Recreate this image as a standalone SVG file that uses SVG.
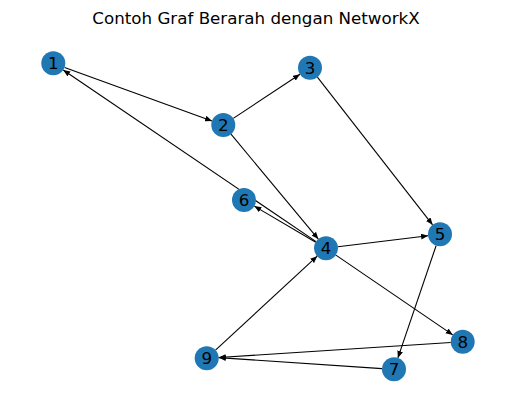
<svg xmlns="http://www.w3.org/2000/svg" width="515" height="411" viewBox="0 0 515 411">
<style>
.e{stroke:#000;stroke-width:1.1;fill:none;marker-end:url(#ah)}
.n circle{fill:#1f77b4}
.n text{font-family:"DejaVu Sans",sans-serif;font-size:16.7px;fill:#000;text-anchor:middle;dominant-baseline:central}
.t{font-family:"DejaVu Sans",sans-serif;font-size:16.7px;fill:#000;text-anchor:middle}
</style>
<defs>
<marker id="ah" markerUnits="userSpaceOnUse" markerWidth="8" markerHeight="6" refX="7" refY="2.9" orient="auto" viewBox="0 0 8 6">
<path d="M0,0 L7,2.9 L0,5.8 z" fill="#000"/>
</marker>
</defs>
<rect width="515" height="411" fill="#fff"/>
<text class="t" x="256" y="24">Contoh Graf Berarah dengan NetworkX</text>
<g id="edges">
<line class="e" x1="64.6" y1="67.4" x2="212.0" y2="120.9"/>
<line class="e" x1="233.3" y1="118.4" x2="300.0" y2="74.3"/>
<line class="e" x1="231.0" y1="134.2" x2="318.3" y2="239.1"/>
<line class="e" x1="317.4" y1="77.2" x2="432.6" y2="224.8"/>
<line class="e" x1="316.1" y1="241.6" x2="63.2" y2="70.0"/>
<line class="e" x1="315.7" y1="242.2" x2="254.3" y2="206.1"/>
<line class="e" x1="337.9" y1="246.8" x2="428.1" y2="235.8"/>
<line class="e" x1="335.9" y1="255.1" x2="452.8" y2="334.9"/>
<line class="e" x1="436.1" y1="245.7" x2="397.9" y2="357.9"/>
<line class="e" x1="450.7" y1="342.5" x2="218.7" y2="357.5"/>
<line class="e" x1="382.0" y1="368.6" x2="218.7" y2="357.6"/>
<line class="e" x1="215.5" y1="350.2" x2="317.2" y2="256.2"/>
</g>
<g id="node1" class="n"><circle cx="53.3" cy="63.3" r="12"/><text x="53.3" y="63.3">1</text></g>
<g id="node2" class="n"><circle cx="223.3" cy="125" r="12"/><text x="223.3" y="125">2</text></g>
<g id="node3" class="n"><circle cx="310" cy="67.7" r="12"/><text x="310" y="67.7">3</text></g>
<g id="node4" class="n"><circle cx="326" cy="248.3" r="12"/><text x="326" y="248.3">4</text></g>
<g id="node5" class="n"><circle cx="440" cy="234.3" r="12"/><text x="440" y="234.3">5</text></g>
<g id="node6" class="n"><circle cx="244" cy="200" r="12"/><text x="244" y="200">6</text></g>
<g id="node7" class="n"><circle cx="394" cy="369.3" r="12"/><text x="394" y="369.3">7</text></g>
<g id="node8" class="n"><circle cx="462.7" cy="341.7" r="12"/><text x="462.7" y="341.7">8</text></g>
<g id="node9" class="n"><circle cx="206.7" cy="358.3" r="12"/><text x="206.7" y="358.3">9</text></g>
</svg>
